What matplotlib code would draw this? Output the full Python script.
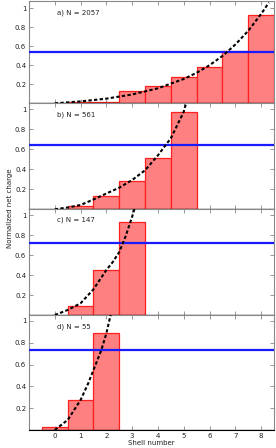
import matplotlib
matplotlib.use("Agg")
import matplotlib.pyplot as plt

# ==========================================================
# DATA
# ==========================================================
labels = ["a) N = 2057", "b) N = 561", "c) N = 147", "d) N = 55"]

shells_a = [1, 2, 3, 4, 5, 6, 7, 8]
charge_a = [0.010, 0.015, 0.128, 0.185, 0.274, 0.379, 0.554, 0.926]
shells_b = [1, 2, 3, 4, 5]
charge_b = [0.030, 0.135, 0.288, 0.515, 0.973]
shells_c = [1, 2, 3]
charge_c = [0.094, 0.447, 0.930]
shells_d = [0, 1, 2]
charge_d = [0.024, 0.272, 0.887]

mean_line = [0.543, 0.646, 0.720, 0.734]

# dashed fit curves
fit_x_a = [0, 1, 2, 3, 4, 5, 5.5, 6, 6.5, 7, 7.5, 8, 8.3]
fit_y_a = [0, 0.020, 0.049, 0.093, 0.158, 0.256, 0.321, 0.401, 0.498, 0.618, 0.763, 0.940, 1.06]
fit_x_b = [0, 0.5, 1, 1.5, 2, 2.5, 3, 3.5, 4, 4.5, 5, 5.1]
fit_y_b = [0, 0.018, 0.043, 0.098, 0.158, 0.216, 0.293, 0.390, 0.540, 0.710, 0.975, 1.07]
fit_x_c = [0, 0.5, 1, 1.5, 2, 2.25, 2.5, 2.75, 3, 3.1]
fit_y_c = [0, 0.050, 0.117, 0.257, 0.450, 0.530, 0.630, 0.790, 0.983, 1.07]
fit_x_d = [0, 0.5, 1, 1.3, 1.5, 1.8, 2, 2.17]
fit_y_d = [0, 0.092, 0.275, 0.430, 0.550, 0.730, 0.887, 1.06]

panels = [
    (shells_a, charge_a, fit_x_a, fit_y_a),
    (shells_b, charge_b, fit_x_b, fit_y_b),
    (shells_c, charge_c, fit_x_c, fit_y_c),
    (shells_d, charge_d, fit_x_d, fit_y_d),
]
y_tops = [1.077, 1.06, 1.057, 1.055]

# ==========================================================
# FIGURE
# ==========================================================
fig = plt.figure(figsize=(2.76, 4.48), dpi=100)
gs = fig.add_gridspec(4, 1, left=29/276, right=274/276, top=1 - 1/448,
                      bottom=1 - 430/448, hspace=0,
                      height_ratios=[102.3, 106, 105.7, 115])

grey = "#888888"
for i, (sx, sy, fx, fy) in enumerate(panels):
    ax = fig.add_subplot(gs[i])
    ax.bar(sx, sy, width=1.0, color="#ff8080", edgecolor="#ff2020",
           linewidth=0.9, zorder=2)
    ax.axhline(mean_line[i], color="#1a1aff", lw=1.6, zorder=3)
    ax.plot(fx, fy, color="black", lw=1.5, ls=(0, (1.6, 1.1)), zorder=4)
    ax.axhline(0, color="black", lw=0.9, zorder=5)

    ax.set_xlim(-1, 8.5)
    ax.set_ylim(0, y_tops[i])
    ax.set_xticks(range(0, 9))
    ax.set_yticks([0.2, 0.4, 0.6, 0.8, 1])
    ax.set_yticklabels(["0.2", "0.4", "0.6", "0.8", "1"])
    ax.tick_params(direction="in", length=3, width=0.6, color=grey,
                   labelsize=5, labelcolor="#222222", top=True, right=True,
                   pad=2)
    for side in ["left", "right", "top"]:
        ax.spines[side].set_color(grey)
        ax.spines[side].set_linewidth(0.8)
    ax.spines["bottom"].set_color("black")
    ax.spines["bottom"].set_linewidth(0.8)

    ax.text(0.07, 0.95, labels[i], fontsize=5, color="#222222",
            ha="left", va="center")

    if i < 3:
        ax.tick_params(labelbottom=False)
    else:
        ax.set_xlabel("Shell number", fontsize=5, color="#222222", labelpad=1)

fig.text(10/276, 1 - 208/448, "Normalized net charge", rotation=90,
         fontsize=5, color="#222222", ha="center", va="center")

plt.savefig("out.png", dpi=100)
plt.close()
